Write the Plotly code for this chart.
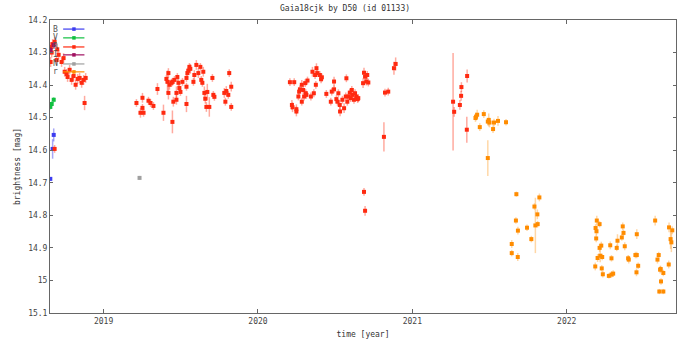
import plotly.graph_objects as go

# ---------------- data (decimal year, magnitude, error) ----------------
B_t = [2018.655, 2018.670, 2018.677]
B_m = [14.688, 14.596, 14.553]
B_e = [0.006, 0.03, 0.02]

V_t = [2018.655, 2018.664, 2018.677]
V_m = [14.467, 14.458, 14.445]
V_e = [0.008, 0.008, 0.008]

I_t = [2018.657, 2018.677]
I_m = [14.292, 14.277]
I_e = [0.01, 0.01]

N_t = [2019.233]
N_m = [14.685]
N_e = [0.006]

R_t = [
    # 2018
    2018.657, 2018.670, 2018.683, 2018.657, 2018.696, 2018.709, 2018.728, 2018.741,
    2018.748, 2018.761, 2018.767, 2018.780, 2018.793, 2018.806, 2018.819, 2018.832,
    2018.845, 2018.858, 2018.871, 2018.884, 2018.877, 2018.683, 2018.664, 2018.700,
    # 2019
    2019.213, 2019.239, 2019.252, 2019.252, 2019.259, 2019.291, 2019.304, 2019.323,
    2019.349, 2019.388, 2019.407, 2019.414, 2019.420, 2019.427, 2019.420, 2019.440,
    2019.446, 2019.459, 2019.452, 2019.446, 2019.472, 2019.472, 2019.478, 2019.485,
    2019.491, 2019.498, 2019.511, 2019.537, 2019.537, 2019.537, 2019.543, 2019.549,
    2019.556, 2019.562, 2019.582, 2019.588, 2019.601, 2019.614, 2019.627, 2019.633,
    2019.640, 2019.646, 2019.653, 2019.659, 2019.666, 2019.672, 2019.685, 2019.705,
    2019.711, 2019.718, 2019.782, 2019.789, 2019.795, 2019.808, 2019.814, 2019.827,
    2019.827,
    # 2020
    2020.207, 2020.235, 2020.220, 2020.224, 2020.249, 2020.249, 2020.262, 2020.267,
    2020.272, 2020.284, 2020.284, 2020.293, 2020.299, 2020.306, 2020.310, 2020.314,
    2020.321, 2020.343, 2020.353, 2020.362, 2020.370, 2020.375, 2020.379, 2020.385,
    2020.401, 2020.414, 2020.409, 2020.443, 2020.472, 2020.478, 2020.493, 2020.493,
    2020.508, 2020.515, 2020.521, 2020.530, 2020.532, 2020.547, 2020.558, 2020.569,
    2020.573, 2020.579, 2020.586, 2020.595, 2020.601, 2020.608, 2020.611, 2020.622,
    2020.629, 2020.637, 2020.646, 2020.650, 2020.681, 2020.687, 2020.694, 2020.702,
    2020.708, 2020.715, 2020.687, 2020.694, 2020.816, 2020.823, 2020.844, 2020.881,
    2020.892,
    # 2021
    2021.264, 2021.271, 2021.308, 2021.316, 2021.318, 2021.355, 2021.353,
]
R_m = [
    # 2018
    14.283, 14.274, 14.267, 14.329, 14.323, 14.307, 14.329, 14.317,
    14.359, 14.366, 14.375, 14.353, 14.384, 14.372, 14.399, 14.381,
    14.378, 14.393, 14.384, 14.378, 14.455, 14.596, 14.300, 14.290,
    # 2019
    14.455, 14.485, 14.439, 14.470, 14.485, 14.448, 14.455, 14.464,
    14.412, 14.485, 14.381, 14.390, 14.363, 14.399, 14.424, 14.393,
    14.390, 14.384, 14.451, 14.513, 14.445, 14.424, 14.375, 14.393,
    14.409, 14.421, 14.390, 14.405, 14.458, 14.378, 14.363, 14.356,
    14.344, 14.350, 14.390, 14.369, 14.338, 14.363, 14.344, 14.384,
    14.393, 14.359, 14.424, 14.442, 14.467, 14.421, 14.467, 14.378,
    14.430, 14.436, 14.424, 14.451, 14.418, 14.430, 14.363, 14.405,
    14.467,
    # 2020
    14.391, 14.391, 14.461, 14.468, 14.474, 14.481, 14.435, 14.420,
    14.413, 14.399, 14.451, 14.415, 14.435, 14.394, 14.425, 14.430,
    14.386, 14.435, 14.359, 14.425, 14.369, 14.399, 14.348, 14.363,
    14.369, 14.376, 14.382, 14.427, 14.451, 14.420, 14.389, 14.413,
    14.443, 14.451, 14.425, 14.461, 14.481, 14.445, 14.471, 14.435,
    14.379, 14.451, 14.435, 14.423, 14.440, 14.415, 14.430, 14.445,
    14.425, 14.435, 14.443, 14.440, 14.394, 14.362, 14.374, 14.389,
    14.369, 14.392, 14.728, 14.786, 14.559, 14.423, 14.420, 14.348,
    14.335,
    # 2021
    14.451, 14.482, 14.461, 14.433, 14.406, 14.372, 14.537,
]
R_e = [
    # 2018
    0.015, 0.015, 0.015, 0.015, 0.015, 0.015, 0.015, 0.015,
    0.015, 0.015, 0.015, 0.015, 0.015, 0.015, 0.015, 0.015,
    0.015, 0.015, 0.015, 0.015, 0.022, 0.012, 0.015, 0.015,
    # 2019
    0.012, 0.015, 0.015, 0.012, 0.012, 0.012, 0.012, 0.012,
    0.018, 0.025, 0.012, 0.035, 0.015, 0.015, 0.02, 0.012,
    0.012, 0.012, 0.015, 0.035, 0.015, 0.02, 0.012, 0.012,
    0.012, 0.012, 0.012, 0.012, 0.025, 0.012, 0.015, 0.012,
    0.012, 0.015, 0.012, 0.015, 0.015, 0.015, 0.012, 0.012,
    0.012, 0.015, 0.02, 0.015, 0.015, 0.025, 0.03, 0.012,
    0.012, 0.012, 0.015, 0.012, 0.015, 0.012, 0.012, 0.015,
    0.012,
    # 2020
    0.012, 0.012, 0.015, 0.015, 0.015, 0.015, 0.012, 0.012,
    0.012, 0.015, 0.012, 0.012, 0.012, 0.012, 0.012, 0.012,
    0.012, 0.012, 0.015, 0.012, 0.012, 0.012, 0.015, 0.012,
    0.012, 0.012, 0.012, 0.012, 0.012, 0.012, 0.015, 0.012,
    0.012, 0.012, 0.012, 0.015, 0.015, 0.012, 0.015, 0.012,
    0.012, 0.012, 0.012, 0.012, 0.012, 0.012, 0.012, 0.012,
    0.012, 0.012, 0.012, 0.012, 0.015, 0.015, 0.015, 0.012,
    0.012, 0.012, 0.012, 0.015, 0.045, 0.012, 0.012, 0.02,
    0.02,
    # 2021
    0.15, 0.015, 0.015, 0.015, 0.015, 0.02, 0.04,
]

r_t = [
    2021.409, 2021.413, 2021.420, 2021.437, 2021.463, 2021.489, 2021.495, 2021.500,
    2021.523, 2021.529, 2021.555, 2021.489, 2021.607,
    2021.674, 2021.671, 2021.684, 2021.644, 2021.644, 2021.683, 2021.743, 2021.771,
    2021.791, 2021.797, 2021.810, 2021.812, 2021.823,
    2022.195, 2022.187, 2022.193, 2022.213, 2022.191, 2022.224, 2022.213, 2022.217,
    2022.200, 2022.230, 2022.185, 2022.227, 2022.234, 2022.273, 2022.290, 2022.301,
    2022.282, 2022.290, 2022.324, 2022.329, 2022.357, 2022.363, 2022.368, 2022.376,
    2022.402, 2022.398, 2022.445, 2022.454, 2022.463, 2022.452, 2022.454,
    2022.573, 2022.588, 2022.596, 2022.605, 2022.609, 2022.626, 2022.611, 2022.600,
    2022.626, 2022.661, 2022.663, 2022.684, 2022.673, 2022.678,
]
r_m = [
    14.501, 14.497, 14.491, 14.529, 14.489, 14.512, 14.507, 14.515,
    14.535, 14.515, 14.510, 14.624, 14.514,
    14.735, 14.816, 14.847, 14.888, 14.916, 14.928, 14.838, 14.873,
    14.773, 14.831, 14.797, 14.827, 14.745,
    14.816, 14.839, 14.849, 14.827, 14.871, 14.893, 14.900, 14.924,
    14.931, 14.928, 14.957, 14.963, 14.981, 14.986, 14.982, 14.979,
    14.892, 14.932, 14.900, 14.878, 14.868, 14.834, 14.854, 14.895,
    14.936, 14.932, 14.922, 14.922, 14.955, 14.975, 14.858,
    14.816, 14.936, 14.922, 14.967, 14.965, 14.977, 15.003, 15.034,
    15.034, 14.951, 14.837, 14.846, 14.873, 14.883,
]
r_e = [
    0.012, 0.012, 0.015, 0.012, 0.012, 0.012, 0.02, 0.015,
    0.012, 0.012, 0.015, 0.055, 0.01,
    0.008, 0.01, 0.012, 0.012, 0.01, 0.012, 0.01, 0.01,
    0.01, 0.085, 0.015, 0.01, 0.012,
    0.015, 0.012, 0.012, 0.01, 0.012, 0.012, 0.012, 0.02,
    0.012, 0.01, 0.012, 0.01, 0.01, 0.008, 0.01, 0.01,
    0.012, 0.01, 0.01, 0.02, 0.01, 0.012, 0.01, 0.012,
    0.012, 0.01, 0.01, 0.01, 0.01, 0.012, 0.015,
    0.015, 0.012, 0.01, 0.012, 0.01, 0.01, 0.01, 0.008,
    0.008, 0.012, 0.015, 0.012, 0.03, 0.03,
]

year_ticks = [2019, 2020, 2021, 2022]
mag_ticks = [14.2, 14.3, 14.4, 14.5, 14.6, 14.7, 14.8, 14.9, 15.0, 15.1]
mag_labels = ["14.2", "14.3", "14.4", "14.5", "14.6", "14.7", "14.8", "14.9", "15", "15.1"]

series = [
    ("B", B_t, B_m, B_e, "#3c3cf0", "rgba(60,60,240,0.45)"),
    ("V", V_t, V_m, V_e, "#10c040", "rgba(16,192,64,0.45)"),
    ("R", R_t, R_m, R_e, "#ff2a10", "rgba(255,42,16,0.4)"),
    ("I", I_t, I_m, I_e, "#a01060", "rgba(160,16,96,0.45)"),
    ("N", N_t, N_m, N_e, "#a0a0a0", "rgba(160,160,160,0.45)"),
    ("r", r_t, r_m, r_e, "#ff8c00", "rgba(255,140,0,0.35)"),
]

FONT = "DejaVu Sans Mono"
fig = go.Figure()
for name, t, m, e, col, ecol in series:
    fig.add_trace(go.Scatter(
        x=t, y=m, mode="markers", name=name,
        marker=dict(symbol="square", size=4, color=col, line=dict(width=0)),
        error_y=dict(type="data", array=e, visible=True, color=ecol, thickness=1.5, width=0),
        showlegend=False,
    ))

# manual gnuplot-style key (label left, sample right)
key_y = [0.969, 0.939, 0.908, 0.881, 0.850, 0.823]
shapes = []
annotations = []
for (name, t, m, e, col, ecol), ky in zip(series, key_y):
    annotations.append(dict(xref="paper", yref="paper", x=0.016, y=ky, text=name,
                            showarrow=False, xanchor="right", yanchor="middle",
                            font=dict(family=FONT, size=8, color="#555")))
    shapes.append(dict(type="line", xref="paper", yref="paper", x0=0.021, x1=0.055,
                       y0=ky, y1=ky, line=dict(color=col, width=1.2)))
    shapes.append(dict(type="rect", xref="paper", yref="paper", x0=0.0355, x1=0.041,
                       y0=ky - 0.006, y1=ky + 0.006, fillcolor=col, line=dict(width=0)))

annotations.append(dict(xref="paper", yref="paper", x=0.472, y=1.0, yshift=12,
                        text="Gaia18cjk by D50 (id 01133)", showarrow=False,
                        xanchor="center", yanchor="middle",
                        font=dict(family=FONT, size=8, color="#333")))

fig.update_layout(
    width=677, height=345,
    margin=dict(l=50, r=1, t=20, b=32),
    paper_bgcolor="white", plot_bgcolor="white",
    font=dict(family=FONT, size=8, color="#444"),
    shapes=shapes, annotations=annotations,
    showlegend=False,
)
fig.update_xaxes(
    range=[2018.653, 2022.708], tickvals=year_ticks, ticktext=[str(y) for y in year_ticks],
    ticks="inside", ticklen=4, tickcolor="#666", showgrid=False, zeroline=False,
    showline=True, linecolor="#666", linewidth=1, mirror="ticks",
    title=dict(text="time [year]", font=dict(family=FONT, size=8, color="#333"), standoff=6),
)
fig.update_yaxes(
    range=[15.1, 14.2], tickvals=mag_ticks, ticktext=mag_labels,
    ticks="inside", ticklen=3, tickcolor="#666", showgrid=False, zeroline=False,
    showline=True, linecolor="#666", linewidth=1, mirror="ticks",
    title=dict(text="brightness [mag]", font=dict(family=FONT, size=8, color="#333"), standoff=6),
)

fig.write_html("out.html")
